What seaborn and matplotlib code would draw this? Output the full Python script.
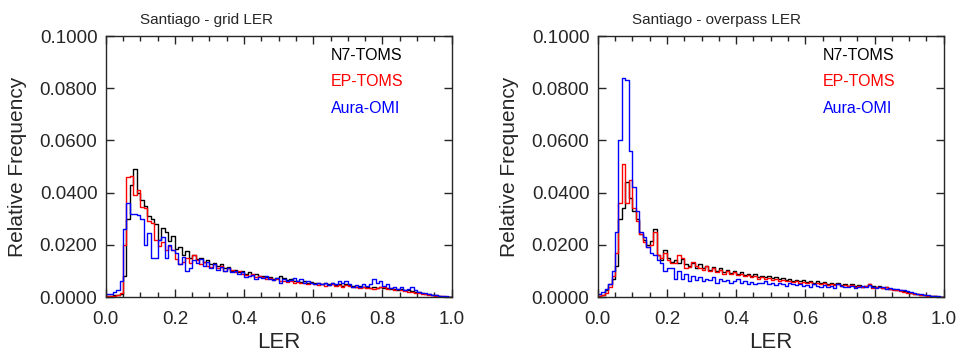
import numpy as np
import pandas as pd
import matplotlib
matplotlib.use("Agg")
import matplotlib.pyplot as plt
import seaborn as sns
from matplotlib.ticker import MultipleLocator, FormatStrFormatter

# LER bins of 0.01 from 0 to 1
bin_centers = np.arange(100) * 0.01 + 0.005

# relative frequency, in units of 1e-4
grid_n7 = [3, 4, 6, 8, 10, 80, 300, 430, 490, 400,
           370, 350, 310, 300, 280, 220, 265, 250, 215, 235,
           185, 190, 160, 175, 150, 160, 145, 150, 135, 140,
           125, 130, 120, 125, 110, 115, 100, 105, 95, 100,
           90, 95, 85, 88, 80, 82, 75, 78, 70, 72,
           80, 72, 65, 68, 60, 62, 58, 62, 55, 57,
           52, 55, 50, 53, 48, 52, 45, 50, 42, 48,
           45, 42, 40, 44, 38, 40, 36, 40, 35, 38,
           36, 33, 30, 32, 28, 30, 25, 27, 22, 20,
           18, 15, 12, 10, 8, 6, 4, 2, 1, 0]
grid_ep = [3, 3, 4, 6, 15, 200, 460, 465, 390, 410,
           345, 340, 290, 285, 220, 195, 210, 180, 195, 180,
           145, 125, 135, 150, 130, 160, 140, 125, 135, 120,
           115, 125, 110, 120, 100, 110, 105, 95, 100, 90,
           85, 80, 88, 75, 82, 75, 70, 72, 65, 68,
           62, 60, 58, 62, 55, 58, 52, 55, 50, 52,
           48, 45, 50, 42, 46, 48, 44, 46, 40, 45,
           42, 38, 40, 36, 38, 34, 36, 32, 35, 38,
           40, 32, 35, 28, 30, 25, 22, 20, 18, 15,
           14, 12, 10, 8, 6, 5, 4, 3, 2, 1]
grid_omi = [10, 12, 20, 28, 60, 260, 360, 320, 320, 315,
            300, 200, 245, 150, 150, 220, 230, 150, 200, 180,
            170, 125, 155, 100, 110, 140, 130, 145, 120, 135,
            110, 125, 105, 115, 100, 110, 95, 100, 90, 95,
            75, 80, 85, 70, 78, 72, 80, 70, 65, 72,
            55, 68, 60, 65, 72, 60, 70, 55, 62, 52,
            50, 55, 48, 52, 45, 55, 50, 60, 55, 62,
            48, 40, 45, 40, 50, 42, 48, 70, 55, 60,
            42, 50, 35, 38, 30, 40, 28, 32, 40, 25,
            20, 16, 14, 10, 8, 6, 5, 4, 3, 2]

over_n7 = [3, 8, 25, 50, 70, 120, 300, 340, 440, 380,
           330, 300, 240, 220, 200, 215, 260, 160, 140, 180,
           150, 135, 140, 130, 145, 125, 120, 130, 110, 125,
           110, 120, 105, 115, 100, 110, 95, 105, 92, 100,
           90, 95, 85, 90, 80, 88, 78, 82, 75, 80,
           72, 76, 68, 72, 65, 70, 62, 66, 60, 64,
           58, 62, 55, 60, 52, 56, 50, 54, 48, 52,
           46, 50, 44, 48, 42, 46, 40, 44, 50, 42,
           38, 42, 36, 40, 32, 30, 28, 25, 22, 18,
           15, 12, 10, 8, 6, 5, 4, 3, 2, 1]
over_ep = [3, 8, 15, 40, 80, 170, 360, 510, 360, 450,
           340, 290, 240, 210, 190, 200, 250, 160, 150, 170,
           140, 130, 130, 160, 150, 110, 115, 135, 120, 110,
           105, 120, 100, 110, 95, 105, 90, 100, 88, 95,
           85, 90, 80, 85, 75, 80, 70, 75, 68, 72,
           65, 70, 62, 66, 60, 63, 58, 60, 55, 58,
           52, 56, 50, 54, 48, 52, 46, 50, 45, 48,
           44, 46, 42, 45, 40, 44, 38, 42, 48, 36,
           40, 38, 35, 38, 30, 28, 25, 22, 20, 16,
           14, 12, 10, 8, 6, 5, 4, 3, 2, 1]
over_omi = [10, 20, 30, 50, 100, 250, 600, 840, 830, 560,
            420, 330, 250, 230, 190, 170, 160, 140, 130, 100,
            110, 110, 70, 100, 70, 90, 60, 80, 65, 75,
            60, 70, 65, 75, 55, 70, 60, 65, 55, 60,
            70, 55, 62, 50, 58, 48, 55, 52, 60, 50,
            55, 45, 52, 48, 42, 55, 50, 45, 50, 42,
            45, 40, 48, 42, 38, 45, 40, 42, 35, 48,
            42, 38, 40, 44, 36, 40, 42, 38, 45, 40,
            35, 38, 40, 32, 35, 30, 32, 28, 26, 22,
            18, 15, 12, 10, 8, 6, 4, 3, 3, 2]

series_names = ["N7-TOMS", "EP-TOMS", "Aura-OMI"]
series_colors = ["black", "#ff0000", "#0000ff"]
panel_titles = ["Santiago - grid LER", "Santiago - overpass LER"]
panels = [[grid_n7, grid_ep, grid_omi], [over_n7, over_ep, over_omi]]

sns.set_style("ticks")
plt.rcParams["font.family"] = ["Liberation Sans", "DejaVu Sans"]

fig = plt.figure(figsize=(9.61, 3.57), dpi=100)
axes = [fig.add_axes([0.110, 0.168, 0.360, 0.731]),
        fig.add_axes([0.622, 0.168, 0.360, 0.731])]

for ax, title, data in zip(axes, panel_titles, panels):
    for name, color, vals in zip(series_names, series_colors, data):
        df = pd.DataFrame({"LER": bin_centers,
                           "freq": np.array(vals) / 10000.0})
        sns.histplot(data=df, x="LER", weights="freq",
                     binwidth=0.01, binrange=(0, 1), element="step",
                     fill=False, color=color, linewidth=1.0, ax=ax)
    ax.set_xlim(0, 1)
    ax.set_ylim(0, 0.1)
    ax.xaxis.set_major_locator(MultipleLocator(0.2))
    ax.xaxis.set_minor_locator(MultipleLocator(0.05))
    ax.yaxis.set_major_locator(MultipleLocator(0.02))
    ax.xaxis.set_major_formatter(FormatStrFormatter("%.1f"))
    ax.yaxis.set_major_formatter(FormatStrFormatter("%.4f"))
    ax.tick_params(which="both", direction="in", top=True, right=True,
                   labelsize=13.5, width=1)
    ax.tick_params(axis="x", which="major", pad=10)
    ax.tick_params(axis="y", which="major", pad=6)
    ax.tick_params(which="major", length=6)
    ax.tick_params(which="minor", length=3.5)
    for sp in ax.spines.values():
        sp.set_linewidth(1)
    ax.set_xlabel("LER", fontsize=16, labelpad=3)
    ax.set_ylabel("Relative Frequency", fontsize=15, labelpad=9)
    ax.text(0.10, 1.045, title, transform=ax.transAxes, fontsize=11)
    for i, (name, color) in enumerate(zip(series_names, series_colors)):
        ax.text(0.65, 0.927 - i * 0.102, name, color=color, fontsize=11.5,
                transform=ax.transAxes, va="center")

fig.savefig("out.png", dpi=100)
